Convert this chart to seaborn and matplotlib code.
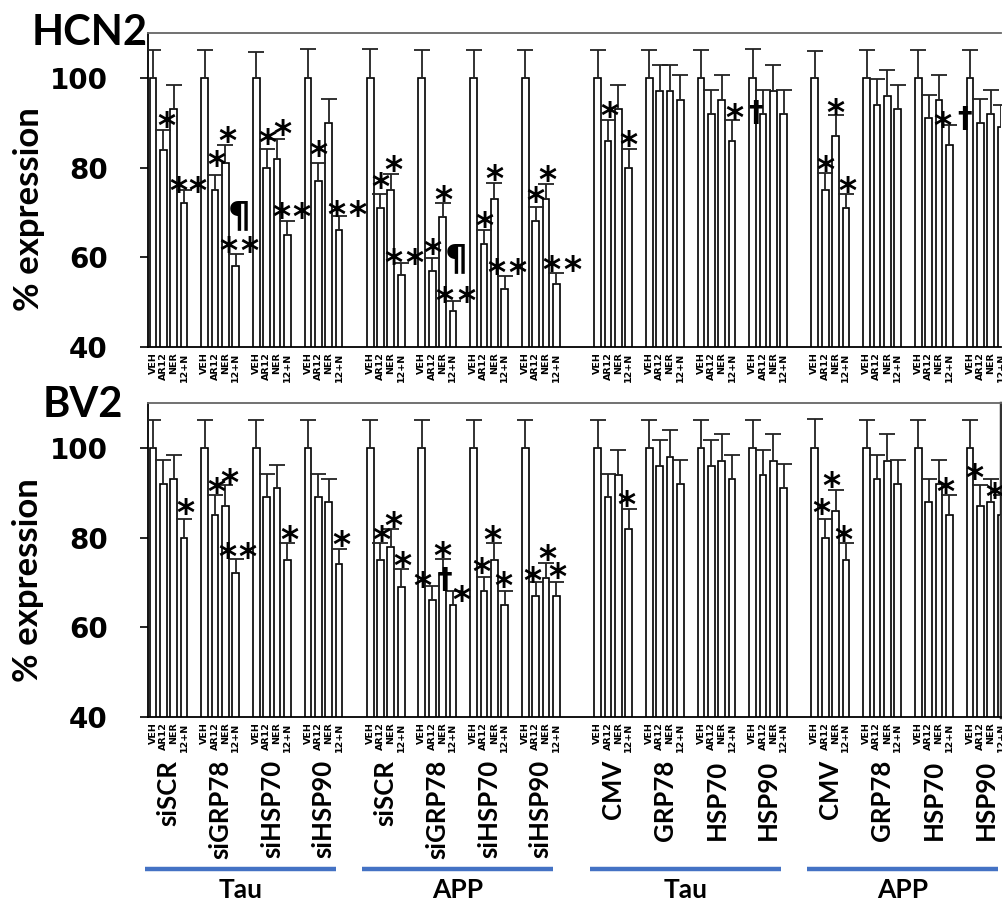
import numpy as np
import pandas as pd
import seaborn as sns
import matplotlib
matplotlib.use('Agg')
from matplotlib import pyplot as plt

conditions = ['VEH', 'AR12', 'NER', '12+N']
groups = ['siSCR', 'siGRP78', 'siHSP70', 'siHSP90',
          'siSCR', 'siGRP78', 'siHSP70', 'siHSP90',
          'CMV', 'GRP78', 'HSP70', 'HSP90',
          'CMV', 'GRP78', 'HSP70', 'HSP90']
blocks = ['Tau', 'APP', 'Tau', 'APP']

# % expression, one row per group: VEH, AR12, NER, 12+N
hcn2_mean = [[100, 84, 93, 72], [100, 75, 81, 58], [100, 80, 82, 65], [100, 77, 90, 66],
             [100, 71, 75, 56], [100, 57, 69, 48], [100, 63, 73, 53], [100, 68, 73, 54],
             [100, 86, 93, 80], [100, 97, 97, 95], [100, 92, 95, 86], [100, 92, 97, 92],
             [100, 75, 87, 71], [100, 94, 96, 93], [100, 91, 95, 85], [100, 90, 92, 89]]
hcn2_sem = [[6.1, 4.3, 5.4, 3.1], [6.1, 3.4, 4.1, 2.7], [5.7, 4.2, 4.4, 3.2], [6.4, 4.0, 5.2, 3.1],
            [6.4, 3.2, 3.6, 2.7], [6.1, 2.8, 3.1, 2.3], [6.1, 3.1, 3.5, 2.9], [6.1, 3.1, 3.3, 2.6],
            [6.1, 4.7, 5.4, 4.1], [6.1, 5.9, 5.9, 5.6], [6.1, 5.3, 5.6, 4.6], [6.4, 5.3, 5.9, 5.3],
            [5.9, 3.7, 4.7, 3.1], [6.1, 5.7, 5.7, 5.4], [6.1, 5.2, 5.6, 4.5], [6.1, 5.2, 5.3, 5.0]]
bv2_mean = [[100, 92, 93, 80], [100, 85, 87, 72], [100, 89, 91, 75], [100, 89, 88, 74],
            [100, 75, 78, 69], [100, 66, 72, 65], [100, 68, 75, 65], [100, 67, 71, 67],
            [100, 89, 94, 82], [100, 96, 98, 92], [100, 96, 97, 93], [100, 94, 97, 91],
            [100, 80, 86, 75], [100, 93, 97, 92], [100, 88, 92, 85], [100, 87, 88, 85]]
bv2_sem = [[6.2, 5.4, 5.4, 4.2], [6.2, 4.4, 4.7, 3.2], [6.2, 5.1, 5.2, 3.7], [6.2, 5.1, 5.0, 3.5],
           [6.1, 3.7, 3.9, 4.1], [6.2, 3.1, 3.3, 3.0], [6.2, 3.1, 3.7, 3.2], [6.1, 3.2, 3.3, 3.2],
           [6.2, 5.1, 5.5, 4.3], [6.1, 5.7, 6.0, 5.4], [6.2, 5.7, 6.0, 5.4], [6.1, 5.6, 6.0, 5.3],
           [6.4, 4.2, 4.7, 3.7], [6.1, 5.4, 6.0, 5.4], [6.1, 5.0, 5.4, 4.6], [6.2, 4.7, 5.0, 4.6]]

# significance marks: (group, condition, symbol, x shift in bars, height above error cap)
hcn2_marks = [(0, 1, '*', 0.25, 2.8), (0, 3, '*', -0.5, 1.6), (0, 3, '*', 1.3, 1.6),
              (1, 1, '*', 0.1, 4.0), (1, 2, '*', 0.15, 2.7), (1, 3, '¶', 0.3, 8.3),
              (1, 3, '*', -0.75, 2.5), (1, 3, '*', 1.35, 2.5),
              (2, 1, '*', 0.1, 3.2), (2, 2, '*', 0.5, 3.0), (2, 3, '*', -0.55, 2.7), (2, 3, '*', 1.4, 2.7),
              (3, 1, '*', 0.0, 3.7), (3, 3, '*', -0.3, 2.2), (3, 3, '*', 1.8, 2.2),
              (4, 1, '*', 0.0, 3.4), (4, 2, '*', 0.2, 2.7), (4, 3, '*', -0.8, 1.9), (4, 3, '*', 1.3, 1.9),
              (5, 1, '*', 0.0, 3.0), (5, 2, '*', 0.1, 2.5), (5, 3, '¶', 0.3, 9.1),
              (5, 3, '*', -0.8, 1.9), (5, 3, '*', 1.3, 1.9),
              (6, 1, '*', 0.0, 2.7), (6, 2, '*', 0.0, 2.8), (6, 3, '*', -0.8, 2.5), (6, 3, '*', 1.25, 2.5),
              (7, 1, '*', 0.0, 3.3), (7, 2, '*', 0.1, 2.7), (7, 3, '*', -0.45, 2.4), (7, 3, '*', 1.6, 2.4),
              (8, 1, '*', 0.15, 2.7), (8, 3, '*', 0.0, 2.8),
              (10, 3, '*', 0.2, 2.3), (10, 3, '†', 2.3, 1.6),
              (12, 1, '*', 0.0, 2.7), (12, 2, '*', 0.0, 2.4), (12, 3, '*', 0.15, 2.5),
              (14, 3, '*', -0.65, 1.6), (14, 3, '†', 1.5, 1.2)]
bv2_marks = [(0, 3, '*', 0.1, 3.2),
             (1, 1, '*', 0.1, 2.5), (1, 2, '*', 0.4, 2.4), (1, 3, '*', -0.85, 2.3), (1, 3, '*', 1.1, 2.3),
             (2, 3, '*', 0.15, 2.7), (3, 3, '*', 0.25, 2.7),
             (4, 1, '*', 0.1, 2.7), (4, 2, '*', 0.2, 2.5), (4, 3, '*', 0.15, 2.4),
             (5, 1, '*', -0.9, 2.0), (5, 2, '*', 0.0, 2.5), (5, 2, '†', 0.2, -4.7), (5, 3, '*', 0.85, 0.0),
             (6, 1, '*', -0.2, 3.1), (6, 2, '*', -0.15, 2.7), (6, 3, '*', -0.1, 2.8),
             (7, 1, '*', -0.3, 2.0), (7, 2, '*', 0.1, 2.7), (7, 3, '*', 0.1, 2.9),
             (8, 3, '*', -0.2, 2.7),
             (12, 1, '*', -0.35, 3.2), (12, 2, '*', -0.4, 2.7), (12, 3, '*', -0.25, 2.7),
             (14, 3, '*', -0.4, 2.5),
             (15, 1, '*', -0.6, 3.5), (15, 3, '*', -0.65, 1.3)]

# layout: 4 bars per group, gap of one bar between groups, wider gaps between blocks
block_extra = [0, 1, 3, 4]
group_start = np.array([5 * g + block_extra[g // 4] for g in range(len(groups))])
positions = (group_start[:, None] + np.arange(4)[None, :]).ravel()

SYM_SIZE = {'*': 25, '¶': 26, '†': 21}
SYM_MID = {'*': 0.555, '¶': 0.25, '†': 0.27}
LABEL_FONT = ['Lato', 'DejaVu Sans']

fig = plt.figure(figsize=(10.02, 9.07), dpi=100)
ax_top = fig.add_axes([148 / 1002, 1 - 347 / 907, 853 / 1002, 314 / 907])
ax_bot = fig.add_axes([148 / 1002, 1 - 717 / 907, 853 / 1002, 314 / 907])


def panel(ax, means, sems, marks, right_spine):
    m = np.array(means, dtype=float)
    s = np.array(sems, dtype=float)
    df = pd.DataFrame({'pos': positions, 'value': m.ravel()})
    sns.barplot(data=df, x='pos', y='value', native_scale=True, width=0.65,
                color='white', edgecolor='black', linewidth=1.2, errorbar=None, ax=ax)
    err = ax.errorbar(positions, m.ravel(), yerr=[np.zeros(m.size), s.ravel()], fmt='none',
                      ecolor='#222222', elinewidth=1.3, capsize=6, capthick=1.3, zorder=3)
    err[1][0].set_visible(False)
    for g, c, sym, dx, dy in marks:
        x = group_start[g] + c + dx
        y = m[g, c] + s[g, c] + dy
        fs = SYM_SIZE[sym]
        ax.annotate(sym, xy=(x, y), xytext=(0, -SYM_MID[sym] * fs), textcoords='offset points',
                    ha='center', va='baseline', fontsize=fs, fontweight='bold',
                    family='DejaVu Sans', color='black', zorder=4, annotation_clip=False)
    ax.set_xlim(-0.48, 81.9)
    ax.set_ylim(40, 110)
    ax.set_xlabel('')
    ax.set_ylabel('')
    ax.set_yticks([40, 60, 80, 100])
    ax.set_yticklabels(['40', '60', '80', '100'], fontsize=20, fontweight='bold',
                       family='DejaVu Sans')
    ax.tick_params(axis='y', length=5.8, width=1.2, pad=23, direction='out')
    ax.set_xticks(positions)
    ax.set_xticklabels(conditions * len(groups), rotation=90, fontsize=6.8,
                       fontweight='bold', family='DejaVu Sans')
    ax.tick_params(axis='x', length=0, pad=4)
    ax.spines['top'].set_color('#666666')
    ax.spines['top'].set_linewidth(1.3)
    ax.spines['left'].set_linewidth(1.3)
    ax.spines['bottom'].set_linewidth(1.3)
    if right_spine:
        ax.spines['right'].set_color('#333333')
        ax.spines['right'].set_linewidth(2.5)
    else:
        ax.spines['right'].set_visible(False)


panel(ax_top, hcn2_mean, hcn2_sem, hcn2_marks, False)
panel(ax_bot, bv2_mean, bv2_sem, bv2_marks, True)

# group names below the lower panel
for g, name in enumerate(groups):
    ax_bot.annotate(name, xy=(group_start[g] + 1.5, 0), xycoords=('data', 'axes fraction'),
                    xytext=(0, -31), textcoords='offset points', rotation=90,
                    ha='center', va='top', fontsize=18.5, fontweight='bold', family=LABEL_FONT)

# construct blocks: blue underline and name
xt = ax_bot.get_xaxis_transform()
for b, name in enumerate(blocks):
    first = group_start[4 * b]
    last = group_start[4 * b + 3] + 3
    ax_bot.plot([first - 0.75, last - 0.3], [-0.484, -0.484], transform=xt, clip_on=False,
                color='#4472C4', linewidth=3.2, solid_capstyle='butt')
    ax_bot.text((first + last) / 2 - 0.5, -0.551, name, transform=xt, ha='center', va='center',
                fontsize=19, fontweight='bold', family=LABEL_FONT)

fig.text(32 / 1002, 1 - 45 / 907, 'HCN2', ha='left', va='baseline', fontsize=30,
         fontweight='bold', family=LABEL_FONT)
fig.text(43 / 1002, 1 - 417 / 907, 'BV2', ha='left', va='baseline', fontsize=30,
         fontweight='bold', family=LABEL_FONT)
fig.text(29 / 1002, 1 - 209 / 907, '% expression', rotation=90, ha='center', va='center',
         fontsize=25, fontweight='bold', family=LABEL_FONT)
fig.text(28 / 1002, 1 - 580 / 907, '% expression', rotation=90, ha='center', va='center',
         fontsize=25, fontweight='bold', family=LABEL_FONT)

fig.savefig('out.png', dpi=100)
